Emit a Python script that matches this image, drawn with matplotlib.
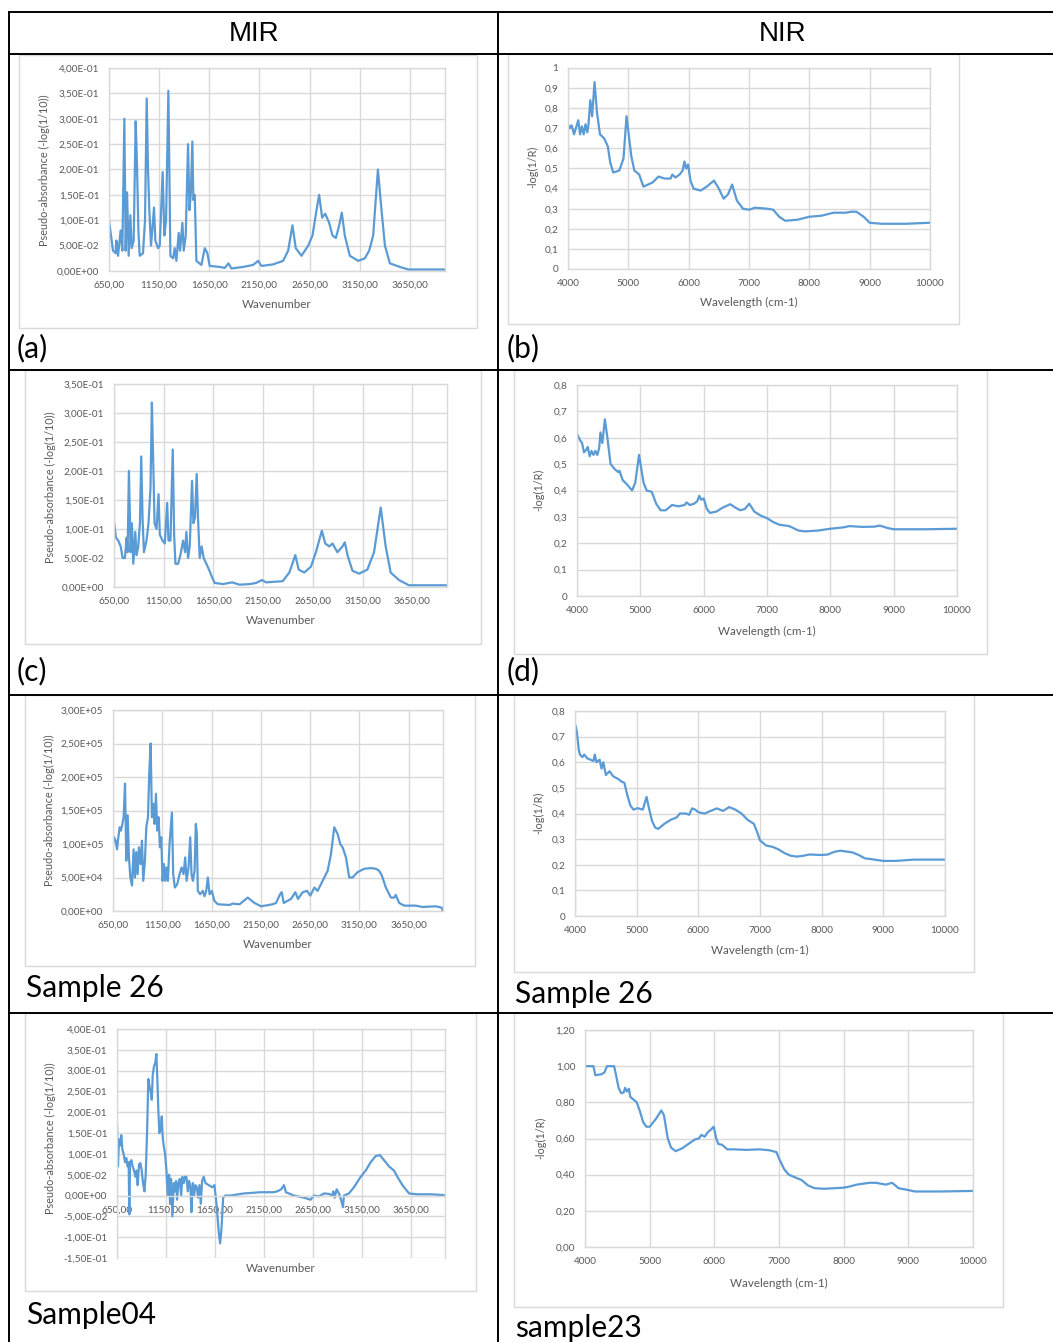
import matplotlib
matplotlib.use("Agg")
import matplotlib.pyplot as plt
from matplotlib.patches import Rectangle

plt.rcParams['font.family'] = ['Lato', 'DejaVu Sans']

W, H = 1053, 1342
BLUE = '#5B9BD5'
GRID = '#D9D9D9'
TXT = '#595959'

# ---------------- data ----------------
# (a) MIR
a_x = [650, 690, 717, 723, 740, 766, 783, 803, 816, 830, 846, 863, 876, 896, 916, 929, 943, 956,
       989, 1009, 1026, 1039, 1052, 1069, 1099, 1112, 1139, 1156, 1185, 1202, 1219, 1242, 1262,
       1289, 1305, 1322, 1345, 1358, 1382, 1395, 1415, 1438, 1452, 1465, 1481, 1491, 1505, 1521,
       1571, 1605, 1631, 1654, 1754, 1804, 1841, 1871, 1987, 2087, 2137, 2170, 2286, 2386, 2436,
       2479, 2512, 2569, 2636, 2679, 2719, 2745, 2775, 2805, 2845, 2878, 2912, 2945, 2971, 3001,
       3051, 3135, 3201, 3244, 3284, 3331, 3367, 3401, 3451, 3550, 3633, 3996]
a_y = [.10, .04, .035, .06, .03, .08, .04, .30, .04, .155, .03, .11, .045, .06, .295, .21, .08, .03,
       .035, .10, .34, .20, .12, .05, .125, .06, .045, .05, .195, .07, .10, .355, .03,
       .025, .045, .02, .075, .04, .095, .04, .07, .25, .12, .15, .255, .14, .15, .02,
       .012, .045, .035, .01, .008, .006, .015, .005, .008, .012, .02, .01, .013, .02, .04,
       .09, .045, .03, .05, .07, .12, .15, .105, .113, .095, .07, .065, .09, .115, .07,
       .03, .02, .025, .04, .07, .20, .12, .05, .015, .008, .003, .003]

# (b) NIR
b_x = [4000, 4030, 4060, 4100, 4150, 4170, 4200, 4230, 4260, 4290, 4320, 4340, 4370, 4400, 4440,
       4480, 4530, 4600, 4660, 4700, 4750, 4850, 4920, 4970, 5050, 5100, 5180, 5250, 5400, 5500,
       5600, 5700, 5730, 5780, 5850, 5900, 5930, 5960, 5990, 6030, 6080, 6200, 6300, 6420, 6500,
       6580, 6650, 6720, 6800, 6900, 7000, 7100, 7300, 7400, 7500, 7600, 7800, 8000, 8200, 8400,
       8600, 8700, 8780, 8900, 9000, 9200, 9600, 10000]
b_y = [.72, .70, .715, .67, .72, .74, .67, .71, .67, .72, .68, .72, .84, .76, .93,
       .78, .67, .65, .61, .53, .48, .49, .55, .76, .56, .49, .47, .41, .43, .46,
       .45, .45, .47, .455, .47, .49, .535, .50, .52, .44, .40, .39, .41, .44, .40,
       .35, .37, .42, .34, .30, .295, .305, .30, .295, .26, .24, .245, .26, .265, .28,
       .28, .285, .285, .26, .23, .225, .225, .23]

# (c) MIR
c_x = [650, 670, 693, 717, 737, 760, 777, 787, 800, 817, 830, 844, 864, 877, 894, 911, 924, 937,
       951, 977, 997, 1017, 1031, 1044, 1058, 1078, 1098, 1111, 1138, 1161, 1185, 1198, 1218,
       1241, 1255, 1268, 1295, 1318, 1345, 1365, 1378, 1395, 1412, 1435, 1449, 1465, 1482, 1495,
       1512, 1532, 1552, 1579, 1606, 1629, 1662, 1746, 1839, 1913, 2013, 2080, 2137, 2180, 2347,
       2414, 2474, 2508, 2564, 2631, 2681, 2741, 2775, 2815, 2848, 2898, 2949, 2972, 2999, 3049,
       3116, 3199, 3266, 3333, 3383, 3433, 3517, 3617, 3994]
c_y = [.113, .085, .08, .07, .05, .05, .085, .06, .20, .06, .11, .04, .095, .055, .07, .11, .225, .12,
       .06, .08, .11, .17, .318, .22, .11, .10, .16, .09, .08, .075, .145, .08, .08,
       .237, .09, .04, .04, .055, .08, .06, .095, .05, .07, .183, .11, .12, .195, .12,
       .05, .07, .05, .04, .03, .02, .007, .005, .008, .004, .005, .007, .012, .008, .01,
       .025, .055, .03, .025, .035, .06, .097, .075, .07, .075, .06, .07, .077, .055, .028,
       .023, .03, .06, .137, .07, .025, .012, .003, .003]

# (d) NIR
d_x = [4000, 4050, 4080, 4110, 4150, 4170, 4200, 4230, 4260, 4290, 4320, 4350, 4370, 4400, 4440,
       4480, 4530, 4600, 4650, 4670, 4720, 4800, 4870, 4920, 4980, 5050, 5100, 5180, 5250, 5320,
       5400, 5500, 5600, 5700, 5730, 5780, 5850, 5900, 5930, 5960, 6000, 6050, 6100, 6200, 6300,
       6420, 6500, 6580, 6650, 6720, 6800, 6900, 7000, 7100, 7200, 7350, 7500, 7600, 7800, 8000,
       8200, 8300, 8500, 8700, 8780, 8900, 9000, 9500, 10000]
d_y = [.615, .59, .58, .545, .555, .565, .53, .55, .535, .55, .535, .56, .62, .58, .67,
       .60, .50, .48, .47, .475, .44, .42, .40, .43, .535, .43, .40, .395, .35, .325,
       .325, .345, .34, .345, .355, .345, .35, .36, .38, .365, .37, .33, .315, .32, .335,
       .348, .335, .325, .33, .35, .32, .305, .295, .28, .27, .265, .248, .245, .248, .255,
       .26, .265, .262, .263, .267, .258, .253, .253, .255]

# Sample 26 MIR
s26m_x = [650, 660, 677, 691, 704, 718, 731, 745, 758, 772, 785, 799, 812, 826, 843, 859, 873, 886,
          900, 913, 930, 944, 957, 974, 988, 1005, 1018, 1032, 1045, 1059, 1072, 1086, 1099, 1113,
          1126, 1140, 1153, 1167, 1180, 1194, 1207, 1224, 1248, 1261, 1278, 1302, 1326, 1346, 1366,
          1383, 1397, 1417, 1434, 1447, 1461, 1478, 1491, 1501, 1511, 1535, 1562, 1579, 1596, 1613,
          1630, 1653, 1680, 1714, 1832, 1866, 1934, 2018, 2086, 2153, 2271, 2305, 2346, 2363, 2383,
          2457, 2501, 2528, 2575, 2619, 2653, 2694, 2727, 2761, 2795, 2829, 2863, 2896, 2930, 2957,
          2981, 3015, 3048, 3082, 3133, 3200, 3268, 3319, 3352, 3379, 3420, 3471, 3504, 3521, 3555,
          3606, 3724, 3792, 3927, 3987, 3994]
s26m_y = [1.0e5, 1.1e5, 1.05e5, .92e5, 1.1e5, 1.25e5, 1.2e5, 1.3e5, 1.4e5, 1.9e5, .75e5, 1.43e5, .8e5,
          .5e5, .38e5, .92e5, .5e5, .88e5, .55e5, .95e5, .7e5, 1.05e5, .45e5, .75e5, 1.25e5, 1.4e5,
          2.05e5, 2.5e5, 1.4e5, 1.6e5, 1.3e5, 1.75e5, 1.2e5, 1.4e5, .95e5, 1.1e5, .45e5, .7e5, .45e5,
          .65e5, .45e5, 1.0e5, 1.47e5, .55e5, .35e5, .4e5, .55e5, .65e5, .55e5, .8e5, .45e5, .65e5,
          1.1e5, .55e5, .45e5, .6e5, 1.3e5, 1.15e5, .3e5, .25e5, .3e5, .22e5, .3e5, .5e5, .25e5,
          .3e5, .15e5, .1e5, .09e5, .11e5, .1e5, .2e5, .12e5, .07e5, .1e5, .12e5, .25e5, .28e5,
          .12e5, .18e5, .28e5, .18e5, .28e5, .3e5, .23e5, .35e5, .3e5, .4e5, .5e5, .6e5, .85e5,
          1.25e5, 1.15e5, 1.0e5, .95e5, .8e5, .5e5, .5e5, .58e5, .63e5, .64e5, .63e5, .6e5, .53e5,
          .35e5, .2e5, .2e5, .24e5, .12e5, .08e5, .08e5, .06e5, .07e5, .05e5, .01e5]

# Sample 26 NIR
s26n_x = [4000, 4030, 4060, 4080, 4120, 4150, 4200, 4250, 4300, 4320, 4350, 4400, 4430, 4460, 4500,
          4560, 4620, 4700, 4750, 4800, 4850, 4900, 4950, 5000, 5030, 5100, 5160, 5200, 5250, 5300,
          5350, 5450, 5550, 5650, 5700, 5800, 5850, 5900, 5950, 6000, 6100, 6200, 6300, 6400, 6500,
          6600, 6700, 6800, 6900, 6950, 7000, 7100, 7200, 7300, 7400, 7500, 7600, 7700, 7800, 8000,
          8100, 8200, 8300, 8500, 8600, 8700, 8800, 9000, 9200, 9500, 10000]
s26n_y = [.75, .72, .65, .63, .62, .63, .615, .61, .605, .63, .60, .61, .575, .60, .55,
          .565, .545, .535, .525, .52, .47, .43, .415, .42, .42, .415, .465, .42, .37, .345,
          .34, .36, .375, .385, .40, .40, .395, .42, .415, .405, .40, .41, .42, .41, .425,
          .415, .40, .375, .36, .33, .295, .275, .27, .26, .245, .235, .232, .235, .24, .238,
          .24, .25, .255, .248, .238, .225, .222, .215, .215, .22, .22]

# Sample04 MIR
s04_x = [650, 660, 670, 681, 694, 705, 718, 732, 745, 759, 769, 776, 783, 797, 810, 824, 838, 851,
         861, 875, 889, 902, 916, 930, 943, 957, 970, 984, 994, 1005, 1015, 1028, 1042, 1052, 1062,
         1073, 1083, 1097, 1107, 1117, 1127, 1141, 1155, 1168, 1182, 1192, 1202, 1216, 1230, 1243,
         1253, 1264, 1277, 1291, 1305, 1318, 1332, 1345, 1359, 1373, 1386, 1400, 1410, 1424, 1437,
         1451, 1465, 1478, 1492, 1506, 1519, 1536, 1553, 1587, 1622, 1645, 1666, 1690, 1703, 1717,
         1734, 1755, 1809, 1945, 2116, 2252, 2286, 2327, 2355, 2375, 2457, 2559, 2627, 2661, 2712,
         2764, 2815, 2849, 2859, 2873, 2893, 2917, 2944, 2958, 2968, 3019, 3070, 3139, 3190, 3241,
         3292, 3336, 3377, 3428, 3479, 3514, 3565, 3633, 3718, 3854, 4000]
s04_y = [.17, .07, .135, .12, .145, .11, .10, .08, .09, .07, .08, -.045, .08, .085, .07, .06, .045, .06,
         .025, .075, .078, .06, .03, .01, .05, .15, .28, .26, .25, .23, .29, .31, .32, .34, .28,
         .20, .15, .16, .19, .14, .12, .10, .06, .0, .05, -.02, .04, -.05, .03, .01,
         .035, -.01, .03, .04, .0, .045, .03, .045, .045, .01, .035, .02, -.04, .03, .0,
         .025, .02, -.005, .025, -.02, .035, .045, .03, .025, .02, .025, -.02, -.09, -.115, -.08,
         -.005, .0, .0, .005, .008, .008, .01, .015, .025, .008, .0, -.005, -.01, .0, -.002,
         .005, .004, .0, .01, -.005, .015, .005, -.015, -.028, .0, .005, .02, .045, .06, .08,
         .095, .097, .085, .07, .06, .045, .025, .005, .003, .003, .001]

# sample23 NIR
s23_x = [4000, 4100, 4130, 4160, 4250, 4300, 4340, 4450, 4480, 4520, 4560, 4600, 4620, 4650, 4680,
         4700, 4750, 4800, 4850, 4900, 4950, 5000, 5100, 5180, 5220, 5280, 5330, 5400, 5500, 5600,
         5700, 5760, 5800, 5850, 5900, 5950, 5990, 6030, 6060, 6120, 6200, 6300, 6500, 6700, 6850,
         6960, 7000, 7080, 7150, 7250, 7350, 7450, 7550, 7700, 8000, 8100, 8200, 8400, 8500, 8650,
         8750, 8850, 9000, 9100, 9500, 10000]
s23_y = [1.0, 1.0, 1.0, .95, .955, .965, 1.0, 1.0, .95, .88, .85, .855, .88, .86, .875,
         .83, .815, .80, .75, .69, .665, .665, .71, .755, .73, .60, .55, .53, .545, .57,
         .595, .60, .62, .61, .635, .65, .665, .60, .57, .565, .54, .54, .537, .54, .535,
         .525, .49, .43, .40, .385, .37, .34, .325, .322, .328, .335, .345, .355, .355, .345,
         .355, .325, .315, .307, .307, .31]

mir_ticks = [650, 1150, 1650, 2150, 2650, 3150, 3650]
mir_labels = ['650,00', '1150,00', '1650,00', '2150,00', '2650,00', '3150,00', '3650,00']
nir_ticks = [4000, 5000, 6000, 7000, 8000, 9000, 10000]
nir_labels = ['4000', '5000', '6000', '7000', '8000', '9000', '10000']

a_yticks = [0, .05, .1, .15, .2, .25, .3, .35, .4]
a_ylabels = ['0,00E+00', '5,00E-02', '1,00E-01', '1,50E-01', '2,00E-01', '2,50E-01', '3,00E-01',
             '3,50E-01', '4,00E-01']
c_yticks = a_yticks[:-1]
c_ylabels = a_ylabels[:-1]
s26m_yticks = [0, 5e4, 1e5, 1.5e5, 2e5, 2.5e5, 3e5]
s26m_ylabels = ['0,00E+00', '5,00E+04', '1,00E+05', '1,50E+05', '2,00E+05', '2,50E+05', '3,00E+05']
s04_yticks = [-.15, -.1, -.05] + a_yticks
s04_ylabels = ['-1,50E-01', '-1,00E-01', '-5,00E-02'] + a_ylabels
b_yticks = [0, .1, .2, .3, .4, .5, .6, .7, .8, .9, 1]
b_ylabels = ['0', '0,1', '0,2', '0,3', '0,4', '0,5', '0,6', '0,7', '0,8', '0,9', '1']
d_yticks = b_yticks[:9]
d_ylabels = b_ylabels[:9]
s23_yticks = [0, .2, .4, .6, .8, 1.0, 1.2]
s23_ylabels = ['0,00', '0,20', '0,40', '0,60', '0,80', '1,00', '1,20']

MIR_Y = 'Pseudo-absorbance (-log(1/10))'
NIR_Y = '-log(1/R)'

# ---------------- layout ----------------
fig = plt.figure(figsize=(W / 100, H / 100), dpi=100)
bg = fig.add_axes([0, 0, 1, 1])
bg.set_xlim(0, W)
bg.set_ylim(H, 0)
bg.axis('off')

# table lines
for yy in [12, 54, 370, 695, 1013]:
    bg.plot([9, W], [yy, yy], color='black', lw=1.4)
for xx in [9, 498]:
    bg.plot([xx, xx], [12, H], color='black', lw=1.4)

bg.text(254, 34, 'MIR', fontsize=20, ha='center', va='center', family=['Liberation Sans'])
bg.text(783, 34, 'NIR', fontsize=20, ha='center', va='center', family=['Liberation Sans'])


def panel(frame, plot, x, y, xlim, xticks, xlabels, yticks, ylabels, xlab, ylab,
          xlab_xy, ylab_xy, cross0=False):
    fx0, fy0, fx1, fy1 = frame
    bg.add_patch(Rectangle((fx0, fy0), fx1 - fx0, fy1 - fy0, fc='white', ec=GRID, lw=1.0))
    px0, py0, px1, py1 = plot
    ax = fig.add_axes([px0 / W, 1 - py1 / H, (px1 - px0) / W, (py1 - py0) / H])
    ax.plot(x, y, color=BLUE, lw=1.6)
    ax.set_xlim(*xlim)
    ax.set_ylim(yticks[0], yticks[-1])
    ax.set_xticks(xticks)
    ax.set_xticklabels(xlabels)
    ax.set_yticks(yticks)
    ax.set_yticklabels(ylabels)
    ax.tick_params(length=0, labelsize=7.2, labelcolor=TXT, pad=7)
    ax.grid(color=GRID, lw=1.0)
    ax.set_axisbelow(True)
    for s in ax.spines.values():
        s.set_color(GRID)
        s.set_linewidth(1.0)
    if cross0:
        ax.spines['bottom'].set_position(('data', 0))
    bg.text(xlab_xy[0], xlab_xy[1], xlab, fontsize=8.4, color=TXT, ha='center', va='center')
    bg.text(ylab_xy[0], ylab_xy[1], ylab, fontsize=7.8, color=TXT, ha='center', va='center',
            rotation=90)
    return ax


panel((19, 55, 477, 328), (109, 68, 445, 271), a_x, a_y, (650, 4000), mir_ticks, mir_labels,
      a_yticks, a_ylabels, 'Wavenumber', MIR_Y, (277, 305), (44, 170))
panel((508, 54, 959, 324), (568, 68, 930, 269), b_x, b_y, (4000, 10000), nir_ticks, nir_labels,
      b_yticks, b_ylabels, 'Wavelength (cm-1)', NIR_Y, (749, 302), (533, 167))
panel((25, 370, 481, 644), (114, 384, 447, 587), c_x, c_y, (650, 4000), mir_ticks, mir_labels,
      c_yticks, c_ylabels, 'Wavenumber', MIR_Y, (281, 621), (50, 487))
panel((514, 370, 987, 654), (577, 385, 957, 596), d_x, d_y, (4000, 10000), nir_ticks, nir_labels,
      d_yticks, d_ylabels, 'Wavelength (cm-1)', NIR_Y, (767, 631), (539, 490))
panel((25, 695, 475, 966), (113, 710, 443, 911), s26m_x, s26m_y, (650, 4000), mir_ticks, mir_labels,
      s26m_yticks, s26m_ylabels, 'Wavenumber', MIR_Y, (278, 944), (49, 810))
panel((514, 695, 974, 972), (575, 711, 945, 916), s26n_x, s26n_y, (4000, 10000), nir_ticks,
      nir_labels, d_yticks, d_ylabels, 'Wavelength (cm-1)', NIR_Y, (760, 950), (539, 813))
panel((25, 1013, 476, 1291), (117, 1029, 445, 1258), s04_x, s04_y, (650, 4000), mir_ticks,
      mir_labels, s04_yticks, s04_ylabels, 'Wavenumber', MIR_Y, (281, 1268), (50, 1138),
      cross0=True)
panel((514, 1013, 1003, 1307), (585, 1030, 973, 1247), s23_x, s23_y, (4000, 10000), nir_ticks,
      nir_labels, s23_yticks, s23_ylabels, 'Wavelength (cm-1)', NIR_Y, (779, 1283), (541, 1138))

# cell captions
captions = [(17, 348, '(a)'), (507, 348, '(b)'), (17, 671, '(c)'), (507, 671, '(d)'),
            (26, 988, 'Sample 26'), (515, 994, 'Sample 26'), (26, 1315, 'Sample04'),
            (515, 1328, 'sample23')]
for cx, cy, ct in captions:
    bg.text(cx, cy, ct, fontsize=21.5, ha='left', va='center', color='black')

fig.savefig('out.png', dpi=100)
